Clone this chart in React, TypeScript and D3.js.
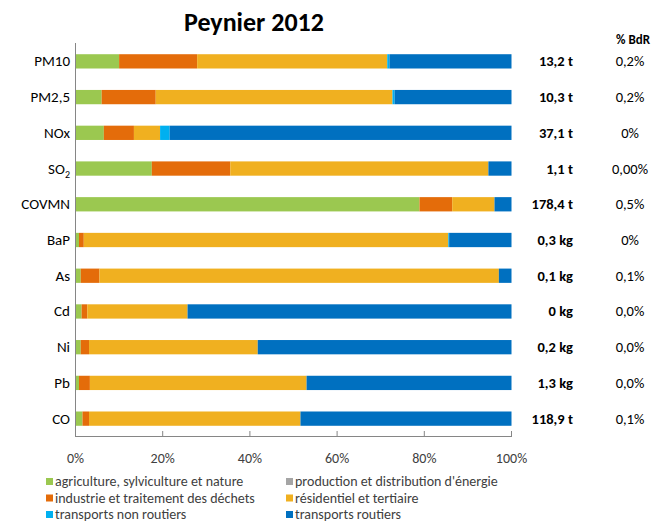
import * as d3 from 'd3';
import { useEffect, useRef } from 'react';

const categories = ['PM10', 'PM2,5', 'NOx', 'SO2', 'COVMN', 'BaP', 'As', 'Cd', 'Ni', 'Pb', 'CO'];
const sectors = [
    'agriculture, sylviculture et nature',
    "production et distribution d'énergie",
    'industrie et traitement des déchets',
    'résidentiel et tertiaire',
    'transports non routiers',
    'transports routiers',
];
const colors = ['#9BC850', '#A5A5A5', '#E46C0A', '#F0B020', '#00B0F0', '#0070C0'];

const agriculture = [10.0, 6.0, 6.5, 17.5, 78.9, 0.8, 1.2, 1.4, 1.2, 0.8, 1.6];
const energie = [0, 0, 0, 0, 0, 0, 0, 0, 0, 0, 0];
const industrie = [17.9, 12.4, 6.9, 18.0, 7.5, 1.1, 4.3, 1.3, 1.9, 2.5, 1.5];
const residentiel = [43.6, 54.3, 6.0, 59.2, 9.7, 83.6, 91.6, 23.0, 38.7, 49.7, 48.5];
const nonRoutiers = [0.5, 0.5, 2.2, 0, 0, 0.2, 0, 0, 0, 0, 0];
const routiers = [28.0, 26.8, 78.4, 5.3, 3.9, 14.3, 2.9, 74.3, 58.2, 47.0, 48.4];

const totals = ['13,2 t', '10,3 t', '37,1 t', '1,1 t', '178,4 t', '0,3 kg', '0,1 kg', '0 kg', '0,2 kg', '1,3 kg', '118,9 t'];
const bdr = ['0,2%', '0,2%', '0%', '0,00%', '0,5%', '0%', '0,1%', '0,0%', '0,0%', '0,0%', '0,1%'];
const xTicks = [0, 20, 40, 60, 80, 100];

const width = 658;
const height = 526;
const font = "Carlito, Calibri, 'Open Sans', 'Liberation Sans', sans-serif";

const App = () => {
    const ref = useRef<SVGSVGElement | null>(null);

    useEffect(() => {
        const svg = d3.select(ref.current);
        svg.selectAll('*').remove();

        const xScale = d3.scaleLinear().domain([0, 100]).range([75.5, 511.5]);
        const yScale = d3.scaleBand().domain(categories).range([43.5, 436.5]).paddingInner(0.6).paddingOuter(0.3);

        const series = [agriculture, energie, industrie, residentiel, nonRoutiers, routiers];
        const rows = categories.map((c, i) => {
            const r: any = { cat: c };
            sectors.forEach((s, j) => (r[s] = series[j][i]));
            return r;
        });
        const stacked = d3.stack<any>().keys(sectors)(rows);

        // title
        svg.append('text')
            .attr('x', 254).attr('y', 31)
            .attr('text-anchor', 'middle')
            .attr('font-family', font).attr('font-weight', 'bold').attr('font-size', 26)
            .attr('fill', '#000')
            .text('Peynier 2012');

        // bars
        svg.append('g').selectAll('g')
            .data(stacked)
            .enter().append('g')
            .attr('fill', (_d, i) => colors[i])
            .selectAll('rect')
            .data(d => d)
            .enter().append('rect')
            .attr('x', d => xScale(d[0]))
            .attr('width', d => xScale(d[1]) - xScale(d[0]))
            .attr('y', d => yScale(d.data.cat)!)
            .attr('height', yScale.bandwidth());

        // axes
        const axis = svg.append('g').attr('stroke', '#868686').attr('stroke-width', 1);
        axis.append('line').attr('x1', 75.5).attr('x2', 75.5).attr('y1', 43).attr('y2', 437);
        axis.append('line').attr('x1', 75.5).attr('x2', 512).attr('y1', 436.5).attr('y2', 436.5);
        axis.selectAll('.tick').data(xTicks).enter().append('line')
            .attr('x1', d => xScale(d)).attr('x2', d => xScale(d))
            .attr('y1', 431).attr('y2', 436.5);

        svg.append('g').selectAll('text')
            .data(xTicks).enter().append('text')
            .attr('x', d => xScale(d)).attr('y', 463)
            .attr('text-anchor', 'middle')
            .attr('font-family', font).attr('font-size', 14).attr('fill', '#404040')
            .text(d => d + '%');

        // category labels
        const labels = svg.append('g').selectAll('text')
            .data(categories).enter().append('text')
            .attr('x', 70)
            .attr('y', d => yScale(d)! + yScale.bandwidth() / 2 + 5)
            .attr('text-anchor', 'end')
            .attr('font-family', font).attr('font-size', 15).attr('fill', '#000');
        labels.each(function (d) {
            const t = d3.select(this);
            if (d === 'SO2') {
                t.append('tspan').text('SO');
                t.append('tspan').attr('font-size', 10).attr('dy', 4).text('2');
            } else {
                t.text(d);
            }
        });

        // totals and % BdR
        svg.append('g').selectAll('text')
            .data(totals).enter().append('text')
            .attr('x', 573)
            .attr('y', (_d, i) => yScale(categories[i])! + yScale.bandwidth() / 2 + 5)
            .attr('text-anchor', 'end')
            .attr('font-family', font).attr('font-weight', 'bold').attr('font-size', 14.5).attr('fill', '#000')
            .text(d => d);

        svg.append('text')
            .attr('x', 633).attr('y', 44)
            .attr('text-anchor', 'middle')
            .attr('font-family', font).attr('font-weight', 'bold').attr('font-size', 13).attr('fill', '#000')
            .text('% BdR');

        svg.append('g').selectAll('text')
            .data(bdr).enter().append('text')
            .attr('x', 630)
            .attr('y', (_d, i) => yScale(categories[i])! + yScale.bandwidth() / 2 + 5)
            .attr('text-anchor', 'middle')
            .attr('font-family', font).attr('font-size', 14.5).attr('fill', '#000')
            .text(d => d);

        // legend
        const legendOrder = [0, 1, 2, 3, 4, 5];
        const legend = svg.append('g').selectAll('g')
            .data(legendOrder).enter().append('g')
            .attr('transform', i => `translate(${i % 2 === 0 ? 46 : 286},${486 + Math.floor(i / 2) * 16.5})`);
        legend.append('rect')
            .attr('x', 0).attr('y', -8).attr('width', 7).attr('height', 7)
            .attr('fill', i => colors[i]);
        legend.append('text')
            .attr('x', 9).attr('y', 0)
            .attr('font-family', font).attr('font-size', 14).attr('fill', '#404040')
            .text(i => sectors[i]);
    }, [ref]);

    return <svg ref={ref} width={width} height={height} style={{ display: 'block', position: 'absolute', left: 0, top: 0 }} />;
};

export default App;
